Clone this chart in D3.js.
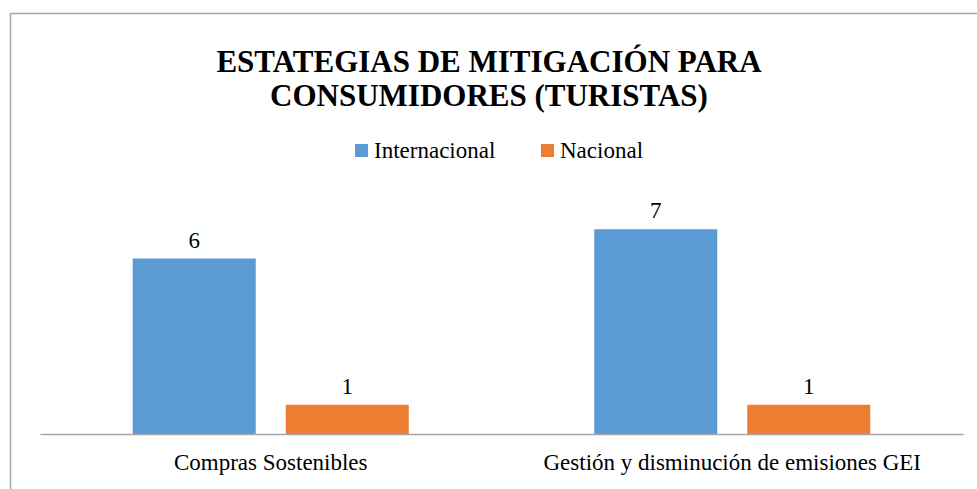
<!DOCTYPE html>
<html>
<head>
<meta charset="utf-8">
<script src="https://cdn.jsdelivr.net/npm/d3@7"></script>
</head>
<body style="margin:0">
<div id="chart"></div>
<script>
// data
const categories = ["Compras Sostenibles", "Gestión y disminución de emisiones GEI"];
const seriesNames = ["Internacional", "Nacional"];
const internacional = [6, 7];
const nacional = [1, 1];
const titleLines = ["ESTATEGIAS DE MITIGACIÓN PARA", "CONSUMIDORES (TURISTAS)"];

const colors = ["#5B9BD5", "#ED7D31"];
const FONT = '"Liberation Serif", "Times New Roman", Tinos';

const width = 977, height = 489;
const margin = {top: 200, right: 14, bottom: 55, left: 40};
const innerW = width - margin.left - margin.right;
const innerH = height - margin.top - margin.bottom;

const svg = d3.select("#chart").append("svg")
    .attr("width", width)
    .attr("height", height);

// chart area border (runs off the right / bottom edge)
svg.append("rect")
    .attr("x", 10.5).attr("y", 13.5)
    .attr("width", 990).attr("height", 500)
    .attr("fill", "none")
    .attr("stroke", "#a6a6a6")
    .attr("stroke-width", 1.5);

const chart = svg.append("g")
    .attr("transform", `translate(${margin.left},${margin.top})`);

const rows = categories.map((c, i) => ({cat: c, values: [internacional[i], nacional[i]]}));

const x0 = d3.scaleBand()
    .domain(categories)
    .range([0, innerW]);

const x1 = d3.scaleBand()
    .domain(seriesNames)
    .range([0, x0.bandwidth()])
    .paddingInner(0.196)
    .paddingOuter(0.606);

const y = d3.scaleLinear()
    .domain([0, 8])
    .range([innerH, 0]);

const groups = chart.selectAll(".group")
    .data(rows)
  .join("g")
    .attr("class", "group")
    .attr("transform", d => `translate(${x0(d.cat)},0)`);

groups.selectAll("rect")
    .data(d => d.values.map((v, i) => ({key: seriesNames[i], value: v, i})))
  .join("rect")
    .attr("x", d => x1(d.key))
    .attr("y", d => y(d.value))
    .attr("width", x1.bandwidth())
    .attr("height", d => innerH - y(d.value))
    .attr("fill", d => colors[d.i]);

groups.selectAll(".label")
    .data(d => d.values.map((v, i) => ({key: seriesNames[i], value: v})))
  .join("text")
    .attr("class", "label")
    .attr("x", d => x1(d.key) + x1.bandwidth() / 2)
    .attr("y", d => y(d.value) - 11)
    .attr("text-anchor", "middle")
    .style("font-size", "23px")
    .text(d => d.value);

// x axis
const xAxis = d3.axisBottom(x0).tickSize(0).tickPadding(20);
const xAxisG = chart.append("g")
    .attr("transform", `translate(0,${innerH})`)
    .call(xAxis)
    .attr("font-family", null);
xAxisG.select(".domain").attr("stroke", "#a6a6a6").attr("stroke-width", 1.5);
xAxisG.selectAll(".tick text")
    .style("font-size", "23px")
    .attr("fill", "#000");

// title
const title = svg.append("text")
    .attr("x", 489)
    .attr("y", 72)
    .attr("text-anchor", "middle")
    .style("font-size", "31px")
    .style("font-weight", "bold");
title.selectAll("tspan")
    .data(titleLines)
  .join("tspan")
    .attr("x", 489)
    .attr("dy", (d, i) => i === 0 ? 0 : 34)
    .text(d => d);

// legend
const legend = svg.append("g");
const legendX = [355, 541];
seriesNames.forEach((name, i) => {
  const g = legend.append("g").attr("transform", `translate(${legendX[i]},144)`);
  g.append("rect").attr("width", 13).attr("height", 13).attr("fill", colors[i]);
  g.append("text")
      .attr("x", 19).attr("y", 14)
      .style("font-size", "23px")
      .text(name);
});

// serif everywhere, with priority so nothing else overrides it
svg.selectAll("text, tspan").style("font-family", FONT, "important");
</script>
</body>
</html>
